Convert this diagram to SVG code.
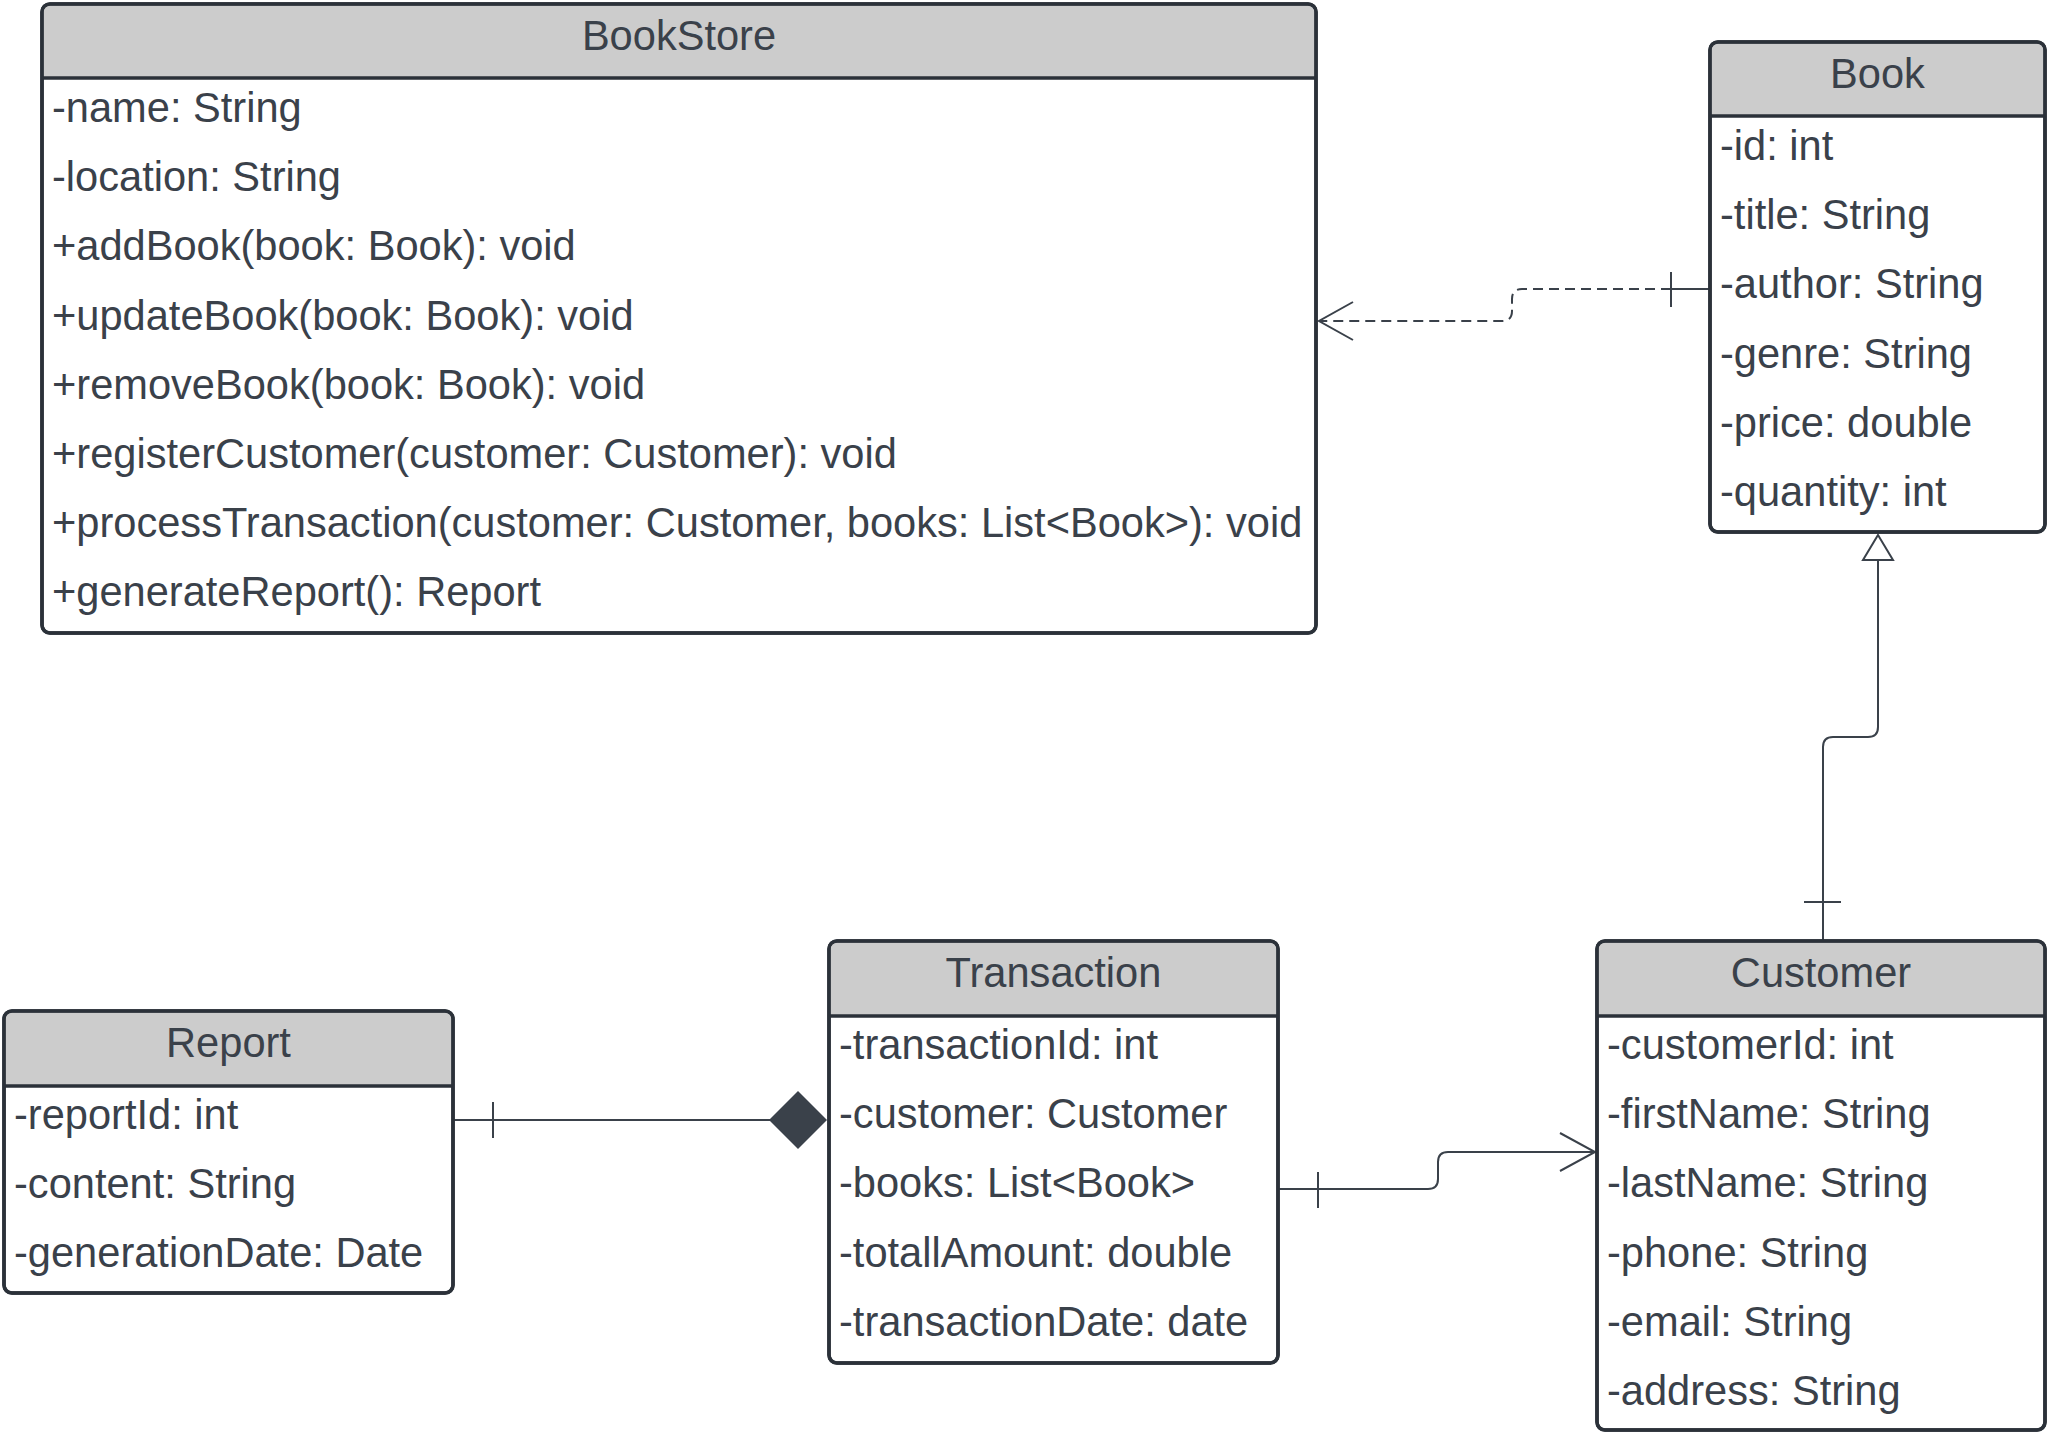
<svg xmlns="http://www.w3.org/2000/svg" width="2048" height="1433" viewBox="0 0 2048 1433">
<style>
.box{fill:#ffffff;stroke:#2b3139;stroke-width:3.5}
.hdr{fill:#cccccc;stroke:none}
.sep{stroke:#2b3139;stroke-width:3.5}
.t{font-family:"Liberation Sans",Arial,sans-serif;font-size:41.6px;fill:#3a414a}
.c{text-anchor:middle}
.ln{fill:none;stroke:#3a414a;stroke-width:2}
.dash{stroke-dasharray:10 6}
</style>
<rect width="2048" height="1433" fill="#ffffff"/>
<g id="connectors">
  <path class="ln" d="M1710,289 H1671"/>
  <path class="ln dash" d="M1671,289 H1522 Q1512,289 1512,299 V311 Q1512,321 1502,321 H1319"/>
  <path class="ln" d="M1671,272 V307"/>
  <path class="ln" d="M1353,302 L1319,321 L1353,340"/>
  <path class="ln" d="M1823,941 V747 Q1823,737 1833,737 H1868 Q1878,737 1878,727 V560"/>
  <path class="ln" d="M1804,902 H1841"/>
  <path d="M1878,535 L1893,560 L1863,560 Z" fill="#ffffff" stroke="#3a414a" stroke-width="2"/>
  <path class="ln" d="M453,1120 H770"/>
  <path class="ln" d="M493,1102 V1138"/>
  <path d="M769,1120 L798,1091 L827,1120 L798,1149 Z" fill="#3a414a"/>
  <path class="ln" d="M1278,1189 H1428 Q1438,1189 1438,1179 V1162 Q1438,1152 1448,1152 H1595"/>
  <path class="ln" d="M1318,1172 V1208"/>
  <path class="ln" d="M1560,1133 L1595,1152 L1560,1171"/>
</g>
<g id="BookStore">
  <rect class="box" x="42" y="4" width="1274" height="629" rx="8"/>
  <path class="hdr" d="M43.75,78 V12 Q43.75,5.75 50,5.75 H1308 Q1314.25,5.75 1314.25,12 V78 Z"/>
  <line class="sep" x1="42" y1="78" x2="1316" y2="78"/>
  <rect x="42" y="4" width="1274" height="629" rx="8" fill="none" stroke="#2b3139" stroke-width="3.5"/>
  <text class="t c" x="679" y="50">BookStore</text>
  <text class="t" x="52" y="122">-name: String</text>
  <text class="t" x="52" y="191.2">-location: String</text>
  <text class="t" x="52" y="260.4">+addBook(book: Book): void</text>
  <text class="t" x="52" y="329.6">+updateBook(book: Book): void</text>
  <text class="t" x="52" y="398.8">+removeBook(book: Book): void</text>
  <text class="t" x="52" y="468">+registerCustomer(customer: Customer): void</text>
  <text class="t" x="52" y="537.2">+processTransaction(customer: Customer, books: List&lt;Book&gt;): void</text>
  <text class="t" x="52" y="606.4">+generateReport(): Report</text>
</g>
<g id="Book">
  <rect class="box" x="1710" y="42" width="335" height="490" rx="8"/>
  <path class="hdr" d="M1711.75,116 V50 Q1711.75,43.75 1718,43.75 H2037 Q2043.25,43.75 2043.25,50 V116 Z"/>
  <line class="sep" x1="1710" y1="116" x2="2045" y2="116"/>
  <rect x="1710" y="42" width="335" height="490" rx="8" fill="none" stroke="#2b3139" stroke-width="3.5"/>
  <text class="t c" x="1877.5" y="88">Book</text>
  <text class="t" x="1720" y="160">-id: int</text>
  <text class="t" x="1720" y="229.2">-title: String</text>
  <text class="t" x="1720" y="298.4">-author: String</text>
  <text class="t" x="1720" y="367.6">-genre: String</text>
  <text class="t" x="1720" y="436.8">-price: double</text>
  <text class="t" x="1720" y="506">-quantity: int</text>
</g>
<g id="Customer">
  <rect class="box" x="1597" y="941" width="448" height="489" rx="8"/>
  <path class="hdr" d="M1598.75,1016 V949 Q1598.75,942.75 1605,942.75 H2037 Q2043.25,942.75 2043.25,949 V1016 Z"/>
  <line class="sep" x1="1597" y1="1016" x2="2045" y2="1016"/>
  <rect x="1597" y="941" width="448" height="489" rx="8" fill="none" stroke="#2b3139" stroke-width="3.5"/>
  <text class="t c" x="1821" y="987">Customer</text>
  <text class="t" x="1607" y="1059">-customerId: int</text>
  <text class="t" x="1607" y="1128.2">-firstName: String</text>
  <text class="t" x="1607" y="1197.4">-lastName: String</text>
  <text class="t" x="1607" y="1266.6">-phone: String</text>
  <text class="t" x="1607" y="1335.8">-email: String</text>
  <text class="t" x="1607" y="1405">-address: String</text>
</g>
<g id="Transaction">
  <rect class="box" x="829" y="941" width="449" height="422" rx="8"/>
  <path class="hdr" d="M830.75,1016 V949 Q830.75,942.75 837,942.75 H1270 Q1276.25,942.75 1276.25,949 V1016 Z"/>
  <line class="sep" x1="829" y1="1016" x2="1278" y2="1016"/>
  <rect x="829" y="941" width="449" height="422" rx="8" fill="none" stroke="#2b3139" stroke-width="3.5"/>
  <text class="t c" x="1053.5" y="987">Transaction</text>
  <text class="t" x="839" y="1059">-transactionId: int</text>
  <text class="t" x="839" y="1128.2">-customer: Customer</text>
  <text class="t" x="839" y="1197.4">-books: List&lt;Book&gt;</text>
  <text class="t" x="839" y="1266.6">-totallAmount: double</text>
  <text class="t" x="839" y="1335.8">-transactionDate: date</text>
</g>
<g id="Report">
  <rect class="box" x="4" y="1011" width="449" height="282" rx="8"/>
  <path class="hdr" d="M5.75,1086 V1019 Q5.75,1012.75 12,1012.75 H445 Q451.25,1012.75 451.25,1019 V1086 Z"/>
  <line class="sep" x1="4" y1="1086" x2="453" y2="1086"/>
  <rect x="4" y="1011" width="449" height="282" rx="8" fill="none" stroke="#2b3139" stroke-width="3.5"/>
  <text class="t c" x="228.5" y="1057">Report</text>
  <text class="t" x="14" y="1129">-reportId: int</text>
  <text class="t" x="14" y="1198.2">-content: String</text>
  <text class="t" x="14" y="1267.4">-generationDate: Date</text>
</g>
</svg>
